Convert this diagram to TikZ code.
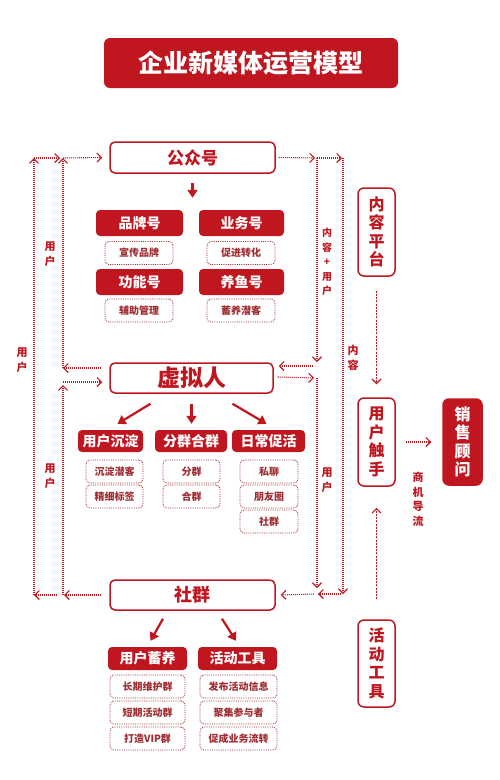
\documentclass[tikz,border=0pt]{standalone}
\usepackage{fontspec}
\setmainfont{Noto Sans CJK SC}
\usetikzlibrary{arrows.meta}
\definecolor{brandred}{RGB}{192,22,32}
\definecolor{boxline}{RGB}{160,45,50}

\begin{document}
\begin{tikzpicture}[x=1pt,y=-1pt]
            \tikzstyle{titlebox} = [fill=brandred, text=white, rounded corners=6pt, minimum width=294pt, minimum height=50pt, font=\fontsize{25}{28}\selectfont\bfseries]
            \tikzstyle{hubbox} = [draw=brandred, line width=1.5pt, rounded corners=5pt, text=brandred, fill=white, minimum width=165pt, minimum height=31pt, inner sep=0pt]
            \tikzstyle{headbox} = [fill=brandred, text=white, rounded corners=4pt, minimum height=26pt, inner sep=0pt, font=\fontsize{14}{16}\selectfont\bfseries]
            \tikzstyle{itembox} = [draw=boxline, densely dotted, line width=0.8pt, rounded corners=4pt, text=boxline, minimum height=23pt, inner sep=0pt, font=\fontsize{10}{12}\selectfont\bfseries]
            \tikzstyle{sidebox} = [draw=brandred, line width=1.5pt, rounded corners=6pt, text=brandred, minimum width=37pt, minimum height=88pt, inner sep=0pt, align=center, font=\fontsize{16}{18.5}\selectfont\bfseries]
            \tikzstyle{sidetag} = [text=brandred, align=center, inner sep=0pt, font=\fontsize{11}{14.5}\selectfont\bfseries]
            \tikzstyle{flowarrow} = [brandred, line width=2.2pt, -{Triangle[length=8pt,width=10pt]}]
            \tikzstyle{dotline} = [brandred, dash pattern=on 1pt off 1pt, line width=1.1pt, -{Straight Barb[length=4.5pt,width=9pt,line width=1.1pt]}]
            \tikzstyle{dashline} = [brandred, dash pattern=on 2pt off 1.2pt, line width=1.2pt, -{Straight Barb[length=4.5pt,width=9pt,line width=1.1pt]}]
            \fill[white] (0,0) rectangle (500,780);
            \useasboundingbox (0,0) rectangle (500,780);

            \node[titlebox] (title) at (251,63) {企业新媒体运营模型};

            % public account
            \node[hubbox, font=\fontsize{17}{20}\selectfont\bfseries] (gzh) at (192.5,157.5) {公众号};
            \node[headbox, minimum width=87pt] (ppH) at (139.5,223) {品牌号};
            \node[headbox, minimum width=85pt] (ywH) at (241.5,223) {业务号};
            \node[itembox, minimum width=68pt] (xcpp) at (139,253) {宣传品牌};
            \node[itembox, minimum width=68pt] (cjzh) at (241,253) {促进转化};
            \node[headbox, minimum width=87pt] (gnH) at (139.5,282) {功能号};
            \node[headbox, minimum width=85pt] (yyH) at (241.5,282) {养鱼号};
            \node[itembox, minimum width=68pt] (fzgl) at (139,310.5) {辅助管理};
            \node[itembox, minimum width=68pt] (xyqk) at (241,310.5) {蓄养潜客};
            \draw[flowarrow, shorten <=9pt, shorten >=12pt] (gzh.south) -- (gzh.south |- ppH.north);

            % virtual person
            \node[hubbox, minimum width=163pt, minimum height=30pt, font=\fontsize{23}{26}\selectfont\bfseries] (xnr) at (191.5,378) {虚拟人};
            \node[headbox, minimum width=65pt, minimum height=22pt] (yhcd) at (110.5,441) {用户沉淀};
            \node[headbox, minimum width=72pt, minimum height=22pt] (fqhq) at (191,441) {分群合群};
            \node[headbox, minimum width=73pt, minimum height=22pt] (rccd) at (268.5,441) {日常促活};
            \node[itembox, minimum width=57pt] (cdqk) at (114.5,471.5) {沉淀潜客};
            \node[itembox, minimum width=57pt] (jxbq) at (114.5,496.5) {精细标签};
            \node[itembox, minimum width=57pt] (fq) at (191.5,471.5) {分群};
            \node[itembox, minimum width=57pt] (hq) at (191.5,496.5) {合群};
            \node[itembox, minimum width=58pt] (sl) at (269,471.5) {私聊};
            \node[itembox, minimum width=58pt] (pyq) at (269,496.5) {朋友圈};
            \node[itembox, minimum width=58pt] (sqx) at (269,521.5) {社群};
            \draw[flowarrow] ([xshift=-41pt,yshift=-10pt]xnr.south) -- ([xshift=7pt,yshift=6pt]yhcd.north);
            \draw[flowarrow] ([yshift=-10pt]xnr.south) -- ([xshift=0.5pt,yshift=6pt]fqhq.north);
            \draw[flowarrow] ([xshift=41pt,yshift=-10pt]xnr.south) -- ([xshift=-2pt,yshift=6pt]rccd.north);

            % community
            \node[hubbox, minimum height=30pt, font=\fontsize{18}{20}\selectfont\bfseries] (sq) at (192.5,595) {社群};
            \node[headbox, minimum width=79pt, minimum height=23pt] (yhxy) at (147.5,658.5) {用户蓄养};
            \node[headbox, minimum width=79pt, minimum height=23pt] (hdgj) at (237.5,658.5) {活动工具};
            \node[itembox, minimum width=75pt] (cqwh) at (147.5,686.5) {长期维护群};
            \node[itembox, minimum width=75pt] (dqhd) at (147.5,712.5) {短期活动群};
            \node[itembox, minimum width=75pt] (dzvip) at (147.5,738.5) {打造VIP群};
            \node[itembox, minimum width=77pt] (fbxx) at (238.5,686.5) {发布活动信息};
            \node[itembox, minimum width=77pt] (jjcy) at (238.5,712.5) {聚集参与者};
            \node[itembox, minimum width=77pt] (cclz) at (238.5,738.5) {促成业务流转};
            \draw[flowarrow] ([xshift=-29.5pt,yshift=-8pt]sq.south) -- ([xshift=3pt,yshift=6pt]yhxy.north);
            \draw[flowarrow] ([xshift=29.5pt,yshift=-8pt]sq.south) -- ([xshift=-1.5pt,yshift=6pt]hdgj.north);

            % right column
            \node[sidebox] (nrpt) at (376.5,232) {内\\容\\平\\台};
            \node[sidebox] (yhcs) at (376.5,442) {用\\户\\触\\手};
            \node[sidebox, minimum height=87pt] (hdgjR) at (376.5,663.5) {活\\动\\工\\具};
            \node[sidebox, fill=brandred, text=white, minimum width=39pt, minimum height=86pt] (xsgw) at (462.5,442) {销\\售\\顾\\问};
            \draw[dashline] ([yshift=-14pt]nrpt.south) -- ([yshift=13pt]yhcs.north);
            \draw[dashline] ([yshift=20pt]hdgjR.north) -- ([yshift=-21pt]yhcs.south);
            \draw[dotline] ([xshift=10pt]yhcs.east) -- ([xshift=-11pt]xsgw.west);

            % left user loops
            \coordinate (Ltop1) at (34,158);
            \coordinate (Ltop2) at (63,158);
            \coordinate (Lbot1) at (34,595);
            \coordinate (Lbot2) at (63,595);
            \coordinate (Lup) at (63,368);
            \coordinate (Llow) at (63,382);
            \draw[dotline] ([xshift=-8pt]sq.west) -- ([xshift=1pt]Lbot2);
            \draw[dotline] ([xshift=-6pt]Lbot2) -- (Lbot1);
            \draw[dotline] (Lbot1) -- (Ltop1);
            \draw[dotline] (Ltop1) -- ([xshift=-3pt]Ltop2);
            \draw[dotline] (Ltop2) -- ([xshift=-7pt]gzh.west);
            \draw[dotline] ([xshift=-8pt,yshift=10pt]xnr.west) -- (Lup);
            \draw[dotline] (Lup) -- (Ltop2);
            \draw[dotline] (Lbot2) -- ([yshift=-3pt]Llow);
            \draw[dotline] (Llow) -- ([xshift=-7pt,yshift=-4pt]xnr.west);

            % right content loops
            \coordinate (Rtop1) at (317,158);
            \coordinate (Rtop2) at (343,158);
            \coordinate (Rbot1) at (317,594);
            \coordinate (Rbot2) at (343,594);
            \coordinate (Rup) at (317,366);
            \coordinate (Rlow) at (317,378);
            \draw[dotline] ([xshift=3pt]gzh.east) -- ([xshift=-2pt]Rtop1);
            \draw[dotline] (Rtop1) -- ([xshift=-1pt]Rtop2);
            \draw[dotline] (Rtop1) -- ([yshift=4pt]Rup);
            \draw[dotline] ([xshift=-4pt]Rup) -- ([xshift=5pt,yshift=12pt]xnr.east);
            \draw[dotline] ([xshift=4pt,yshift=1pt]xnr.east) -- ([xshift=-3pt]Rlow);
            \draw[dotline] (Rlow) -- ([yshift=6pt]Rbot1);
            \draw[dotline] (Rtop2) -- (Rbot2);
            \draw[dotline] ([xshift=-2pt]Rbot2) -- ([xshift=1pt]Rbot1);
            \draw[dotline] ([xshift=-3pt]Rbot1) -- ([xshift=5pt]sq.east);

            % flow labels
            \node[sidetag] (yh1) at (22,360) {用\\户};
            \node[sidetag] (yh2) at (50,254) {用\\户};
            \node[sidetag] (yh3) at (50,476) {用\\户};
            \node[sidetag, font=\fontsize{10}{14.5}\selectfont\bfseries] (nryh) at (327,262) {内\\容\\+\\用\\户};
            \node[sidetag] (nr) at (353,358) {内\\容};
            \node[sidetag] (yh4) at (327,480) {用\\户};
            \node[sidetag] (sjdl) at (418,499) {商\\机\\导\\流};
        \end{tikzpicture}
\end{document}
